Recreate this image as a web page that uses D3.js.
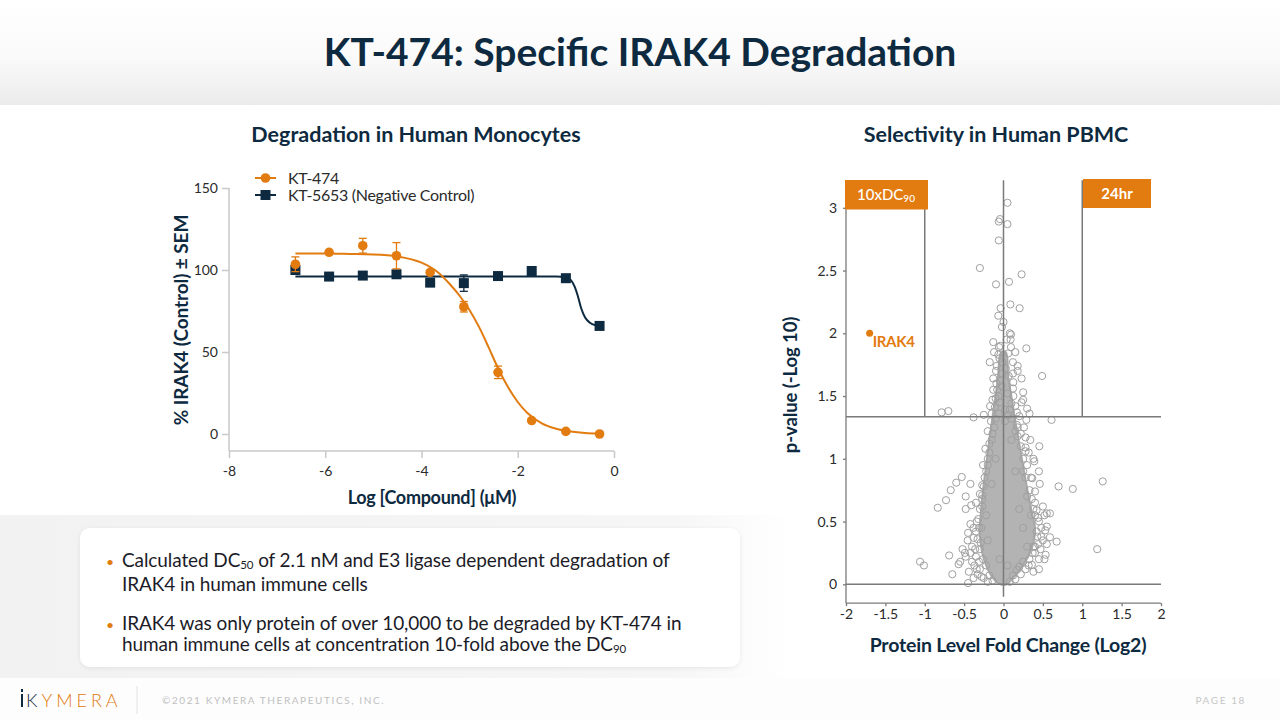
<!DOCTYPE html>
<html><head><meta charset="utf-8">
<script src="https://cdn.jsdelivr.net/npm/d3@7"></script>
<style>
html,body{margin:0;padding:0;background:#fff;}
svg{display:block;font-family:Lato,"Open Sans",sans-serif;}
</style></head>
<body>
<svg id="c" width="1280" height="720"></svg>
<script>
// ---------- DATA ----------
const logConc = [-6.62,-5.92,-5.22,-4.52,-3.82,-3.12,-2.41,-1.71,-1.0,-0.3];
const kt474 = [103.5,110.8,114.8,108.7,98.6,77.6,37.6,8.2,1.6,0];
const kt474Sem = [4.5,0.8,4.5,8.0,1.2,3.2,3.8,1.0,0.6,0.4];
const kt5653 = [100,96,96.6,97.4,92.3,92,96.3,99.4,95,65.9];
const kt5653Sem = [1.5,0.5,0.6,0.6,1.2,5.0,0.6,0.8,0.6,0.6];
// fitted curves
const fit474X = [-6.62,-6.0,-5.5,-5.0,-4.5,-4.0,-3.7,-3.4,-3.2,-3.0,-2.8,-2.6,-2.4,-2.2,-2.0,-1.8,-1.5,-1.2,-0.9,-0.6,-0.3];
const fit474Y = [110,110,109.8,109.5,108.3,104.5,99.5,91,84,75.5,65,52.5,39.5,28.5,19.5,12.8,6.5,3.2,1.5,0.6,0.3];
const fit5653X = [-6.62,-5.0,-3.0,-1.2,-1.0,-0.9,-0.82,-0.75,-0.68,-0.6,-0.5,-0.4,-0.3];
const fit5653Y = [96,96,96,96,95.6,94,90,84,76.5,71,67.8,66.5,66.2];
const leftXTicks = [-8,-6,-4,-2,0];
const leftYTicks = [0,50,100,150];

const volXTicks = [-2,-1.5,-1,-0.5,0,0.5,1,1.5,2];
const volYTicks = [0,0.5,1,1.5,2,2.5,3];
const pThreshold = 1.335;
const foldThresholds = [-1,1];
const irak4 = [-1.7,2.0];
// dense core of the protein cloud (outline, fold vs -log10 p)
const coreOutline = [[-0.03,1.85],[-0.07,1.65],[-0.1,1.5],[-0.14,1.33],[-0.18,1.15],[-0.22,0.95],[-0.26,0.75],[-0.29,0.55],[-0.3,0.4],[-0.27,0.25],[-0.2,0.12],[-0.12,0.04],[-0.04,0.0],[0.04,0.0],[0.12,0.05],[0.22,0.13],[0.32,0.23],[0.38,0.33],[0.4,0.45],[0.35,0.6],[0.29,0.8],[0.22,1.05],[0.15,1.3],[0.1,1.5],[0.06,1.65],[0.03,1.85]];
// individually visible proteins (fold, -log10 p)
const proteins = [
[0.05,3.04],[-0.045,2.91],[-0.06,2.89],[0.05,2.87],[-0.06,2.74],[-0.30,2.52],[0.23,2.47],[-0.095,2.39],[0.07,2.41],[0.087,2.23],[0.205,2.20],[-0.036,2.20],[-0.066,2.14],[0.0,2.09],[0.08,2.00],[0.095,1.99],[-0.13,1.93],[0.09,1.95],[-0.057,1.89],[0.29,1.88],[0.095,1.89],[-0.12,1.85],[0.15,1.85],[-0.066,1.83],[-0.175,1.77],[-0.015,1.77],[0.12,1.77],[-0.086,1.74],[0.18,1.74],[0.18,1.70],[0.49,1.66],[-0.095,1.70],[0.066,1.66],[0.23,1.64],[-0.13,1.64],[-0.045,1.62],[0.125,1.61],[-0.023,1.58],[-0.13,1.55],[0.25,1.53],[0.125,1.50],[0.25,1.47],[-0.066,1.50],[-0.17,1.42],[0.23,1.45],[-0.70,1.38],[-0.785,1.37],[-0.38,1.33],[0.61,1.31],[0.08,1.39],[-0.045,1.45],[0.02,1.39],[-0.11,1.41],[0.17,1.37],
[-0.08,1.55],[-0.1,1.48],[0.05,1.52],[0.1,1.44],[-0.02,1.68],[0.03,1.72],[-0.05,1.80],[0.06,1.84],[-0.09,1.60],[0.12,1.56],[-0.14,1.47],[0.15,1.42],[-0.06,1.36],[0.06,1.35],[-0.15,1.36],[0.2,1.34],[0.3,1.4],[0.33,1.36],[-0.25,1.35],[0.12,1.68],
[-0.04,1.9],[0.04,1.95],[-0.02,2.05],[0.02,1.3],[-0.1,1.32],[0.1,1.32],
[-0.53,0.855],[-0.42,0.80],[-0.60,0.81],[-0.67,0.75],[-0.73,0.67],[-0.835,0.61],[-0.48,0.70],[-0.41,0.63],[-0.48,0.60],[-0.27,0.79],[-0.27,0.71],[-0.45,0.41],[-0.455,0.35],[-0.69,0.23],[-1.06,0.18],[-1.01,0.15],[-0.55,0.18],[-0.57,0.16],[-0.65,0.08],[-0.45,0.01],[-0.49,0.25],[-0.35,0.42],
[0.455,1.10],[0.39,0.98],[0.28,1.06],[0.365,0.845],[0.46,0.80],[0.70,0.78],[0.88,0.76],[1.26,0.82],[0.40,0.74],[0.42,0.59],[0.55,0.565],[0.59,0.565],[0.44,0.53],[0.55,0.46],[0.53,0.43],[0.675,0.34],[0.59,0.375],[0.535,0.235],[1.19,0.28],[0.40,0.30],[0.36,0.155],[0.17,0.115],
[-0.38,0.37],[-0.33,0.36],[-0.40,0.30],[-0.35,0.22],[-0.30,0.28],[-0.42,0.25],[-0.37,0.15],[-0.30,0.12],[-0.28,0.45],[-0.32,0.52],[-0.30,0.60],[-0.27,0.68],[-0.25,0.78],[-0.22,0.90],[-0.20,1.0],[-0.18,1.05],[-0.15,1.15],[-0.20,1.22],[-0.12,1.25],[-0.48,0.22],[-0.52,0.28],[-0.44,0.10],[-0.38,0.05],[-0.33,0.08],[-0.25,0.05],[-0.20,0.02],
[0.30,0.95],[0.25,1.0],[0.32,1.05],[0.22,1.2],[0.28,1.17],[0.18,1.25],[0.35,0.85],[0.40,0.65],[0.45,0.50],[0.48,0.45],[0.43,0.38],[0.40,0.25],[0.33,0.20],[0.28,0.12],[0.22,0.08],[0.15,0.04],[0.35,0.55],[0.38,0.60],[0.30,0.70],[0.50,0.35],[0.47,0.28],[0.38,0.30],[0.45,0.2],[0.3,0.3],
[0.29,1.31],[0.17,1.27],[0.28,1.09],[-0.22,0.55],[-0.2,0.35],[0.25,0.45],[0.2,0.6],[-0.15,0.8],[0.15,0.9],[-0.1,1.0],[0.1,1.15],[-0.05,0.2],[0.05,0.15],
[-0.31,0.45],[-0.34,0.5],[-0.29,0.33],[-0.36,0.28],[-0.26,0.2],[-0.22,0.15],[-0.31,0.18],[-0.27,0.62],[-0.24,0.85],[-0.2,0.95],[-0.18,1.12],[-0.14,1.2],[-0.16,1.3],[-0.23,1.08],[-0.26,0.95],[-0.3,0.72],[-0.35,0.65],[-0.38,0.45],[-0.42,0.48],[-0.4,0.18],[-0.34,0.12],[-0.28,0.06],[-0.18,0.07],[-0.14,0.03],
[0.25,0.9],[0.28,0.85],[0.33,0.75],[0.36,0.68],[0.4,0.55],[0.42,0.42],[0.44,0.32],[0.37,0.25],[0.32,0.15],[0.25,0.18],[0.2,0.14],[0.12,0.07],[0.08,0.02],[0.22,1.1],[0.18,1.18],[0.15,1.22],[0.26,1.25],[0.34,1.15],[0.38,1.0],[0.45,0.9],[0.5,0.62],[0.52,0.55],[0.48,0.38],[0.55,0.32],[0.52,0.2],[0.45,0.12],[0.38,0.1]
];

// ---------- COLOURS ----------
const NAVY = "#0e2a40", ORANGE = "#e27b10", GRID = "#c9c9c9", DARK = "#2b2b2b";

const svg = d3.select("#c");
const defs = svg.append("defs");
const hg = defs.append("linearGradient").attr("id","hg").attr("x1",0).attr("x2",0).attr("y1",0).attr("y2",1);
hg.append("stop").attr("offset","0%").attr("stop-color","#ffffff");
hg.append("stop").attr("offset","55%").attr("stop-color","#fafafa");
hg.append("stop").attr("offset","100%").attr("stop-color","#ebebeb");
const bg = defs.append("linearGradient").attr("id","bg").attr("x1",0).attr("x2",1).attr("y1",0).attr("y2",0);
bg.append("stop").attr("offset","0%").attr("stop-color","#f2f2f2");
bg.append("stop").attr("offset","85%").attr("stop-color","#f6f6f6");
bg.append("stop").attr("offset","100%").attr("stop-color","#ffffff");
const sh = defs.append("filter").attr("id","sh").attr("x","-5%").attr("y","-10%").attr("width","110%").attr("height","125%");
sh.append("feDropShadow").attr("dx",0).attr("dy",1).attr("stdDeviation",2).attr("flood-color","#000").attr("flood-opacity",0.08);

// backgrounds
svg.append("rect").attr("x",0).attr("y",0).attr("width",1280).attr("height",105).attr("fill","url(#hg)");
svg.append("rect").attr("x",0).attr("y",515).attr("width",790).attr("height",163).attr("fill","url(#bg)");
svg.append("rect").attr("x",0).attr("y",678).attr("width",1280).attr("height",42).attr("fill","#fdfdfd");

// title
svg.append("text").attr("x",640).attr("y",66).attr("text-anchor","middle")
  .attr("font-size",39).attr("font-weight",700).attr("fill",NAVY).attr("letter-spacing",0)
  .text("KT-474: Specific IRAK4 Degradation");

// ---------- LEFT CHART ----------
svg.append("text").attr("x",416).attr("y",142).attr("text-anchor","middle")
  .attr("font-size",21.5).attr("font-weight",700).attr("fill",NAVY).attr("letter-spacing",0)
  .text("Degradation in Human Monocytes");

const xL = d3.scaleLinear().domain([-8,0]).range([229,614]);
const yL = d3.scaleLinear().domain([-10,150]).range([450.4,188]);
const gL = svg.append("g");

const axB = gL.append("g").attr("transform","translate(0,451)")
  .call(d3.axisBottom(xL).tickValues(leftXTicks).tickSize(7).tickSizeOuter(0).tickPadding(8).tickFormat(d=>String(d)));
const axLft = gL.append("g").attr("transform","translate(229,0)")
  .call(d3.axisLeft(yL).tickValues(leftYTicks).tickSize(7).tickSizeOuter(0).tickPadding(4).tickFormat(d=>String(d)));
[axB,axLft].forEach(a=>{
  a.selectAll("path,line").attr("stroke",GRID).attr("stroke-width",1.5);
  a.selectAll("text").attr("font-size",14).attr("fill",DARK).attr("font-family","Lato");
});
axB.select(".domain").attr("d","M229,0H614");
axLft.select(".domain").attr("d","M0,"+yL(150)+"V"+(451));

gL.append("text").attr("transform","translate(188,320) rotate(-90)").attr("text-anchor","middle")
  .attr("font-size",19).attr("font-weight",700).attr("fill",NAVY).attr("letter-spacing",-0.1)
  .text("% IRAK4 (Control) ± SEM");
gL.append("text").attr("x",432).attr("y",504).attr("text-anchor","middle")
  .attr("font-size",18).attr("font-weight",700).attr("fill",NAVY).attr("letter-spacing",-0.3)
  .text("Log [Compound] (μM)");

const line = d3.line().x(d=>xL(d[0])).y(d=>yL(d[1])).curve(d3.curveMonotoneX);
gL.append("path").attr("d",line(fit5653X.map((x,i)=>[x,fit5653Y[i]])))
  .attr("fill","none").attr("stroke",NAVY).attr("stroke-width",2);
gL.append("path").attr("d",line(fit474X.map((x,i)=>[x,fit474Y[i]])))
  .attr("fill","none").attr("stroke",ORANGE).attr("stroke-width",2);

function errBars(vals, sems, color){
  const g = gL.append("g").attr("stroke",color).attr("stroke-width",1.3);
  logConc.forEach((x,i)=>{
    const cx = xL(x), y1 = yL(vals[i]+sems[i]), y2 = yL(vals[i]-sems[i]);
    g.append("line").attr("x1",cx).attr("x2",cx).attr("y1",y1).attr("y2",y2);
    g.append("line").attr("x1",cx-4).attr("x2",cx+4).attr("y1",y1).attr("y2",y1);
    g.append("line").attr("x1",cx-4).attr("x2",cx+4).attr("y1",y2).attr("y2",y2);
  });
}
errBars(kt5653,kt5653Sem,NAVY);
gL.append("g").selectAll("rect").data(logConc).join("rect")
  .attr("x",(d)=>xL(d)-5).attr("y",(d,i)=>yL(kt5653[i])-5).attr("width",10).attr("height",10).attr("fill",NAVY);
errBars(kt474,kt474Sem,ORANGE);
gL.append("g").selectAll("circle").data(logConc).join("circle")
  .attr("cx",d=>xL(d)).attr("cy",(d,i)=>yL(kt474[i])).attr("r",4.8).attr("fill",ORANGE);

// legend
const lg = gL.append("g");
lg.append("line").attr("x1",255).attr("x2",276).attr("y1",178).attr("y2",178).attr("stroke",ORANGE).attr("stroke-width",2);
lg.append("circle").attr("cx",265.5).attr("cy",178).attr("r",4.8).attr("fill",ORANGE);
lg.append("line").attr("x1",255).attr("x2",276).attr("y1",195).attr("y2",195).attr("stroke",NAVY).attr("stroke-width",2);
lg.append("rect").attr("x",260.5).attr("y",190).attr("width",10).attr("height",10).attr("fill",NAVY);
lg.append("text").attr("x",288).attr("y",183.5).attr("font-size",16).attr("fill",DARK).attr("letter-spacing",-0.3).text("KT-474");
lg.append("text").attr("x",288).attr("y",200.5).attr("font-size",16).attr("fill",DARK).attr("letter-spacing",-0.3).text("KT-5653 (Negative Control)");

// ---------- RIGHT CHART ----------
svg.append("text").attr("x",996).attr("y",142).attr("text-anchor","middle")
  .attr("font-size",21.5).attr("font-weight",700).attr("fill",NAVY).attr("letter-spacing",0)
  .text("Selectivity in Human PBMC");

const xR = d3.scaleLinear().domain([-2,2]).range([846,1161]);
const yR = d3.scaleLinear().domain([0,3]).range([584.3,207.8]);
const gR = svg.append("g");
const LINE = "#7a7a7a";
const pTop = 3.22, pBot = -0.15;

// cloud
gR.append("path").attr("d", d3.line().x(d=>xR(d[0])).y(d=>yR(d[1])).curve(d3.curveCatmullRomClosed)(coreOutline))
  .attr("fill","#b3b3b3").attr("stroke","#a8a8a8").attr("stroke-width",2);
gR.append("g").selectAll("circle").data(proteins).join("circle")
  .attr("cx",d=>xR(d[0])).attr("cy",d=>yR(d[1])).attr("r",3.6)
  .attr("fill","none").attr("stroke","#a0a0a0").attr("stroke-width",1);

// reference lines
const rl = gR.append("g").attr("stroke",LINE).attr("stroke-width",1.5);
rl.append("line").attr("x1",xR(0)).attr("x2",xR(0)).attr("y1",yR(pTop)).attr("y2",yR(-0.1));
foldThresholds.forEach(f=>rl.append("line").attr("x1",xR(f)).attr("x2",xR(f)).attr("y1",yR(pTop)).attr("y2",yR(pThreshold)));
rl.append("line").attr("x1",xR(-2)).attr("x2",xR(2)).attr("y1",yR(pThreshold)).attr("y2",yR(pThreshold));
rl.append("line").attr("x1",xR(-2)).attr("x2",xR(2)).attr("y1",yR(0)).attr("y2",yR(0));

// axes
const axRB = gR.append("g").attr("transform","translate(0,"+yR(pBot)+")")
  .call(d3.axisBottom(xR).tickValues(volXTicks).tickSize(3).tickSizeOuter(0).tickPadding(3).tickFormat(d=>String(d)));
const axRL = gR.append("g").attr("transform","translate("+xR(-2)+",0)")
  .call(d3.axisLeft(yR).tickValues(volYTicks).tickSize(3).tickSizeOuter(0).tickPadding(6).tickFormat(d=>String(d)));
[axRB,axRL].forEach(a=>{
  a.selectAll("path,line").attr("stroke",LINE).attr("stroke-width",1.3);
  a.selectAll("text").attr("font-size",14).attr("fill",DARK).attr("font-family","Lato");
});
axRB.select(".domain").attr("d","M"+xR(-2)+",0H"+xR(2));
axRL.select(".domain").attr("d","M0,"+yR(pTop)+"V"+yR(pBot));

// IRAK4
gR.append("circle").attr("cx",xR(irak4[0])).attr("cy",yR(irak4[1])).attr("r",3.5).attr("fill",ORANGE);
gR.append("text").attr("x",xR(irak4[0])+3).attr("y",yR(irak4[1])+14).attr("font-size",15).attr("font-weight",700)
  .attr("fill",ORANGE).attr("letter-spacing",-0.3).text("IRAK4");

// tag boxes
gR.append("rect").attr("x",845).attr("y",180).attr("width",83).attr("height",29.5).attr("fill",ORANGE);
const t1 = gR.append("text").attr("x",886).attr("y",200).attr("text-anchor","middle").attr("font-size",15).attr("fill","#fff").attr("font-weight",500);
t1.append("tspan").text("10xDC");
t1.append("tspan").attr("font-size",10).attr("dy",2).text("90");
gR.append("rect").attr("x",1083).attr("y",179).attr("width",68).attr("height",29).attr("fill",ORANGE);
gR.append("text").attr("x",1117).attr("y",199).attr("text-anchor","middle").attr("font-size",15).attr("fill","#fff").attr("font-weight",700).text("24hr");

gR.append("text").attr("transform","translate(797,385) rotate(-90)").attr("text-anchor","middle")
  .attr("font-size",18.5).attr("font-weight",700).attr("fill",NAVY).attr("letter-spacing",-0.1)
  .text("p-value (-Log 10)");
gR.append("text").attr("x",1008).attr("y",652).attr("text-anchor","middle")
  .attr("font-size",19.5).attr("font-weight",700).attr("fill",NAVY).attr("letter-spacing",-0.2)
  .text("Protein Level Fold Change (Log2)");

// ---------- TEXT BOX ----------
svg.append("rect").attr("x",80).attr("y",528).attr("width",660).attr("height",139).attr("rx",10)
  .attr("fill","#fff").attr("filter","url(#sh)");
const tb = svg.append("g").attr("font-size",19).attr("fill","#1c1c28").attr("letter-spacing",-0.1);
function bullet(y){ tb.append("text").attr("x",106).attr("y",y).attr("fill",ORANGE).attr("font-size",14).text("•"); }
bullet(567); bullet(630);
const l1 = tb.append("text").attr("x",122).attr("y",567);
l1.append("tspan").text("Calculated DC");
l1.append("tspan").attr("font-size",11.5).attr("dy",2).text("50");
l1.append("tspan").attr("dy",-2).text(" of 2.1 nM and E3 ligase dependent degradation of");
tb.append("text").attr("x",122).attr("y",591).text("IRAK4 in human immune cells");
tb.append("text").attr("x",122).attr("y",630).text("IRAK4 was only protein of over 10,000 to be degraded by KT-474 in");
const l4 = tb.append("text").attr("x",122).attr("y",651);
l4.append("tspan").text("human immune cells at concentration 10-fold above the DC");
l4.append("tspan").attr("font-size",11.5).attr("dy",2).text("90");

// ---------- FOOTER ----------
const ft = svg.append("g");
ft.append("rect").attr("x",21).attr("y",689).attr("width",2).attr("height",3).attr("fill",NAVY);
ft.append("rect").attr("x",21).attr("y",694).attr("width",2).attr("height",13).attr("fill",NAVY);
const logo = ft.append("text").attr("x",26).attr("y",707).attr("font-size",18).attr("font-weight",300).attr("letter-spacing",4);
logo.append("tspan").attr("fill",NAVY).text("K");
logo.append("tspan").attr("fill",ORANGE).text("YMERA");
ft.append("line").attr("x1",137).attr("x2",137).attr("y1",686).attr("y2",714).attr("stroke","#e3e3e3");
ft.append("text").attr("x",162).attr("y",704).attr("font-size",10).attr("fill","#c0c0c0").attr("letter-spacing",1.6).text("©2021 KYMERA THERAPEUTICS, INC.");
ft.append("text").attr("x",1246).attr("y",704).attr("text-anchor","end").attr("font-size",10).attr("fill","#c6c6c6").attr("letter-spacing",1.6).text("PAGE 18");
</script>
</body></html>
